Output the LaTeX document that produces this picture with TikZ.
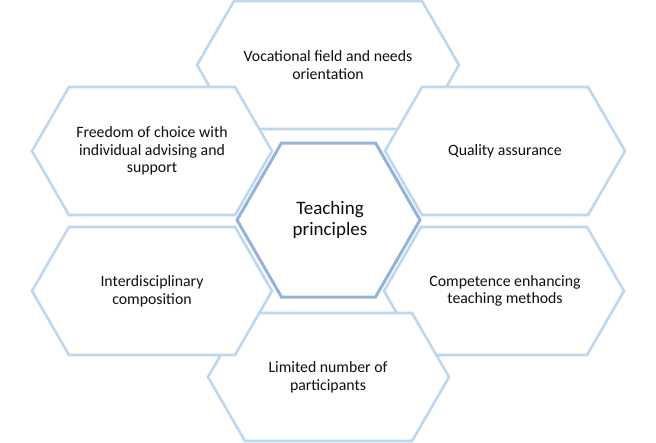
\documentclass[tikz,border=0pt]{standalone}
\usepackage{fontspec}
\setmainfont{Carlito}
\definecolor{hexline}{RGB}{189,215,238}
\definecolor{hexcenter}{RGB}{149,179,215}
\definecolor{txt}{RGB}{15,15,15}
\newcommand\hexshape[5]{%
  \draw[#5] ({#1-#3},#2) -- ({#1-#3+0.5774*#4},{#2-#4}) -- ({#1+#3-0.5774*#4},{#2-#4})
    -- ({#1+#3},#2) -- ({#1+#3-0.5774*#4},{#2+#4}) -- ({#1-#3+0.5774*#4},{#2+#4}) -- cycle;}
\tikzset{
  hexo/.style={draw=hexline, line width=2.6pt, fill=white, line join=miter},
  hexc/.style={draw=hexcenter, line width=3pt, fill=white, line join=miter},
  lbl/.style={align=center, text=txt, font=\fontsize{15.8}{17.7}\selectfont, inner sep=0pt},
  clbl/.style={align=center, text=txt, font=\fontsize{19}{20.5}\selectfont, inner sep=0pt}
}
\begin{document}
\begin{tikzpicture}[x=1pt,y=-1pt]
\useasboundingbox (0,0) rectangle (656,442);
\fill[white] (0,0) rectangle (656,442);
% drawing order
\hexshape{328}{65}{131}{64}{hexo}
\hexshape{505}{151}{120}{64}{hexo}
\hexshape{504}{291}{120}{64}{hexo}
\hexshape{328.5}{377}{120.5}{64}{hexo}
\hexshape{152}{291}{120}{64}{hexo}
\hexshape{152}{151}{120}{64}{hexo}
\hexshape{328.5}{220}{91.5}{77}{hexc}
% labels
\node[lbl] (voc) at (328,65) {Vocational field and needs\\orientation};
\node[lbl] (qual) at (505,151) {Quality assurance};
\node[lbl] (comp) at (505,291) {Competence enhancing\\teaching methods};
\node[lbl] (lim) at (328,377) {Limited number of\\participants};
\node[lbl] (inter) at (152,291) {Interdisciplinary\\composition};
\node[lbl] (free) at (152,151) {Freedom of choice with\\individual advising and\\support};
\node[clbl] (center) at (330,220) {Teaching\\principles};
\end{tikzpicture}
\end{document}
